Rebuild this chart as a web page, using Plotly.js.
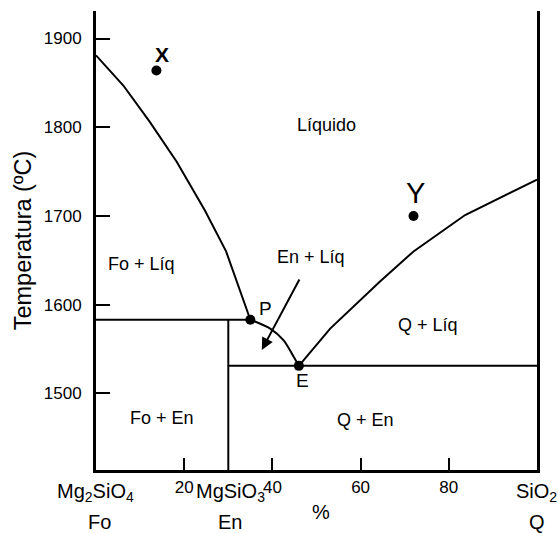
<!DOCTYPE html>
<html>
<head>
<meta charset="utf-8">
<script src="https://cdn.plot.ly/plotly-3.0.1.min.js"></script>
<style>html,body{margin:0;padding:0;background:#fff;}#chart{width:558px;height:533px;}</style>
</head>
<body>
<div id="chart"></div>
<script>
// ---- data (wt% SiO2, temperature ºC) ----
const liqFoX = [0, 6.2, 12.2, 18.3, 24.7, 29.5, 35.0];
const liqFoT = [1881, 1847, 1806, 1761, 1706, 1660, 1583];
const liqEnX = [35.0, 39.5, 42.5, 44.4, 46.0];
const liqEnT = [1583, 1573, 1560, 1545, 1531];
const liqQX = [46.0, 53.1, 64.4, 72.0, 83.7, 100];
const liqQT = [1531, 1573, 1626, 1660, 1701, 1741];
const periX = [0, 35.0];
const periT = [1583, 1583];
const enX = [30, 30];
const enT = [1413.6, 1583];
const eutX = [30, 100];
const eutT = [1531, 1531];

const pointNames = ['X', 'Y', 'P', 'E'];
const pointX = [13.7, 72.0, 35.0, 46.0];
const pointT = [1864, 1700, 1583, 1531];

const regionNames = ['Líquido', 'Fo + Líq', 'En + Líq', 'Q + Líq', 'Fo + En', 'Q + En'];
const regionX = [52.3, 10.4, 48.8, 75.3, 15.0, 61.0];
const regionT = [1803, 1646, 1654, 1577, 1472, 1470];

const xTickVals = [20, 40, 60, 80];
const xTickText = ['20', '40', '60', '80'];
const yTickVals = [1500, 1600, 1700, 1800, 1900];

const compoundNames = ['Mg<sub>2</sub>SiO<sub>4</sub>', 'MgSiO<sub>3</sub>', 'SiO<sub>2</sub>'];
const compoundX = [-0.2, 30.6, 99.8];
const endNames = ['Fo', 'En', 'Q'];
const endX = [0.9, 30.4, 100];

const arrowTail = [46.3, 1630];
const arrowHead = [37.6, 1549];

const FONT = 'Liberation Sans, Arial, Helvetica, sans-serif';
const lineStyle = {color: '#000', width: 2};

const traces = [
  {x: liqFoX, y: liqFoT, mode: 'lines', line: lineStyle},
  {x: liqEnX, y: liqEnT, mode: 'lines', line: Object.assign({shape: 'spline', smoothing: 0.8}, lineStyle)},
  {x: liqQX, y: liqQT, mode: 'lines', line: lineStyle},
  {x: periX, y: periT, mode: 'lines', line: lineStyle},
  {x: enX, y: enT, mode: 'lines', line: lineStyle},
  {x: eutX, y: eutT, mode: 'lines', line: lineStyle},
  {x: pointX, y: pointT, mode: 'markers', marker: {color: '#000', size: 10}, cliponaxis: false}
];

const annotations = [];
regionNames.forEach((t, i) => annotations.push({
  x: regionX[i], y: regionT[i], xref: 'x', yref: 'y', text: t, showarrow: false,
  font: {family: FONT, size: 18, color: '#000'}
}));
// point labels
annotations.push({x: 14.9, y: 1882, xref: 'x', yref: 'y', text: '<b>X</b>', showarrow: false, font: {family: FONT, size: 21, color: '#000'}});
annotations.push({x: 72.5, y: 1726, xref: 'x', yref: 'y', text: 'Y', showarrow: false, font: {family: FONT, size: 29, color: '#000'}});
annotations.push({x: 38.5, y: 1596, xref: 'x', yref: 'y', text: 'P', showarrow: false, font: {family: FONT, size: 19, color: '#000'}});
annotations.push({x: 46.9, y: 1514, xref: 'x', yref: 'y', text: 'E', showarrow: false, font: {family: FONT, size: 19, color: '#000'}});
// arrow
annotations.push({x: arrowHead[0], y: arrowHead[1], ax: arrowTail[0], ay: arrowTail[1], xref: 'x', yref: 'y', axref: 'x', ayref: 'y',
  text: '', showarrow: true, arrowhead: 2, arrowsize: 1.2, arrowwidth: 2, arrowcolor: '#000'});
// compound labels (paper coords: x range is 0-100 %)
compoundNames.forEach((t, i) => annotations.push({
  x: compoundX[i] / 100, y: -0.048, xref: 'paper', yref: 'paper', text: t, showarrow: false,
  xanchor: 'center', yanchor: 'middle',
  font: {family: FONT, size: 20, color: '#000'}
}));
endNames.forEach((t, i) => annotations.push({
  x: endX[i] / 100, y: -0.113, xref: 'paper', yref: 'paper', text: t, showarrow: false,
  xanchor: 'center', yanchor: 'middle',
  font: {family: FONT, size: 20, color: '#000'}
}));
annotations.push({x: 0.51, y: -0.091, xref: 'paper', yref: 'paper', text: '%', showarrow: false,
  xanchor: 'center', yanchor: 'middle',
  font: {family: FONT, size: 20, color: '#000'}});

const layout = {
  width: 558, height: 533,
  margin: {l: 96, r: 21, t: 11, b: 63, pad: 0},
  paper_bgcolor: '#fff', plot_bgcolor: '#fff',
  showlegend: false,
  font: {family: FONT, color: '#000'},
  xaxis: {
    range: [0, 100], showline: true, linewidth: 3, linecolor: '#000', mirror: false,
    ticks: 'inside', ticklen: 12, tickwidth: 2, tickcolor: '#000',
    tickvals: xTickVals, ticktext: xTickText, tickfont: {family: FONT, size: 17, color: '#000'},
    showgrid: false, zeroline: false, fixedrange: true, ticklabelstandoff: 0
  },
  yaxis: {
    range: [1413.6, 1931], showline: true, linewidth: 3, linecolor: '#000', mirror: true,
    ticks: 'inside', ticklen: 14, tickwidth: 2, tickcolor: '#000',
    tickvals: yTickVals, tickfont: {family: FONT, size: 17, color: '#000'},
    showgrid: false, zeroline: false, fixedrange: true, ticklabelstandoff: 8,
    title: {text: 'Temperatura (ºC)', font: {family: FONT, size: 23.5, color: '#000'}, standoff: 6}
  },
  annotations: annotations
};

Plotly.newPlot('chart', traces, layout, {displayModeBar: false, staticPlot: true});
</script>
</body>
</html>
